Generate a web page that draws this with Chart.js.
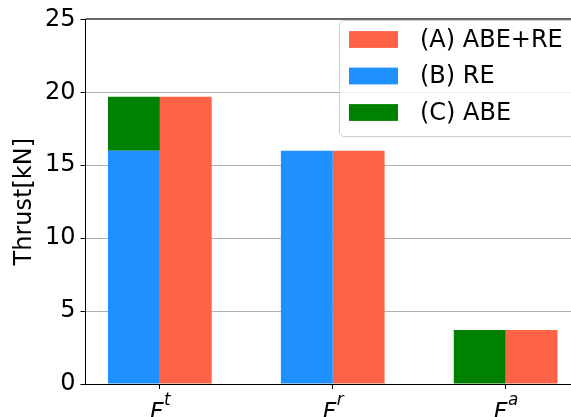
<!DOCTYPE html>
<html>
<head>
<meta charset="utf-8">
<script src="https://cdn.jsdelivr.net/npm/chart.js@4/dist/chart.umd.min.js"></script>
<style>
  html, body { margin: 0; padding: 0; overflow: hidden; background: #fff; }
  #wrap { width: 600px; height: 440px; }
</style>
</head>
<body>
<div id="wrap"><canvas id="c" width="600" height="440"></canvas></div>
<script>
// Thrust components per force direction
const tickSymbols = ['F', 'F', 'F'];
const tickSuperscripts = ['t', 'r', 'a'];
const categoryPositions = [0, 1, 2];
const yTickValues = [0, 5, 10, 15, 20, 25];

const seriesLabels = ['(A) ABE+RE', '(B) RE', '(C) ABE'];
const seriesColors = ['#ff6347', '#1e90ff', '#008000'];
const valuesABERE = [19.7, 16.0, 3.7];
const valuesRE = [16.0, 16.0, 0];
const valuesABE = [3.7, 0, 3.7];

const FONT = '"DejaVu Sans", sans-serif';

function points(vals) {
  return vals.map((v, i) => ({ x: categoryPositions[i], y: v }));
}

// Legend box drawn inside the plot area (top right)
const legendBox = {
  id: 'legendBox',
  afterDraw(chart) {
    const ctx = chart.ctx;
    const x = 339.5, y = 20.5, w = 260, h = 116, r = 5;
    ctx.save();
    ctx.beginPath();
    ctx.moveTo(x + r, y);
    ctx.lineTo(x + w - r, y);
    ctx.arcTo(x + w, y, x + w, y + r, r);
    ctx.lineTo(x + w, y + h - r);
    ctx.arcTo(x + w, y + h, x + w - r, y + h, r);
    ctx.lineTo(x + r, y + h);
    ctx.arcTo(x, y + h, x, y + h - r, r);
    ctx.lineTo(x, y + r);
    ctx.arcTo(x, y, x + r, y, r);
    ctx.closePath();
    ctx.fillStyle = 'rgba(255,255,255,0.8)';
    ctx.fill();
    ctx.strokeStyle = '#cccccc';
    ctx.lineWidth = 1;
    ctx.stroke();
    const rows = [39.5, 76, 112.5];
    ctx.font = '24px ' + FONT;
    ctx.textBaseline = 'middle';
    ctx.textAlign = 'left';
    seriesLabels.forEach((lab, i) => {
      ctx.fillStyle = seriesColors[i];
      ctx.fillRect(349, rows[i] - 8.4, 49, 16.8);
      ctx.fillStyle = '#000';
      ctx.fillText(lab, 420, rows[i] + 1);
    });
    ctx.restore();
  }
};

// Top/right spines and math-style category labels
const frameAndLabels = {
  id: 'frameAndLabels',
  afterDraw(chart) {
    const ctx = chart.ctx;
    const a = chart.chartArea;
    ctx.save();
    ctx.strokeStyle = '#000';
    ctx.lineWidth = 1;
    ctx.beginPath();
    ctx.moveTo(a.left, a.top - 0.5);
    ctx.lineTo(a.right, a.top - 0.5);
    ctx.moveTo(a.right + 0.5, a.top);
    ctx.lineTo(a.right + 0.5, a.bottom);
    ctx.stroke();

    const xs = chart.scales.x;
    const base = 419.5;
    ctx.fillStyle = '#000';
    ctx.textBaseline = 'alphabetic';
    ctx.textAlign = 'left';
    categoryPositions.forEach((p, i) => {
      const cx = xs.getPixelForValue(p);
      ctx.font = 'italic 24px ' + FONT;
      const wF = ctx.measureText(tickSymbols[i]).width;
      ctx.font = 'italic 16.8px ' + FONT;
      const wS = ctx.measureText(tickSuperscripts[i]).width;
      const x0 = cx - (wF + wS) / 2;
      ctx.font = 'italic 24px ' + FONT;
      ctx.fillText(tickSymbols[i], x0, base);
      ctx.font = 'italic 16.8px ' + FONT;
      ctx.fillText(tickSuperscripts[i], x0 + wF + 0.5, base - 14.5);
    });
    ctx.restore();
  }
};

new Chart(document.getElementById('c'), {
  type: 'bar',
  data: {
    datasets: [
      { label: seriesLabels[1], data: points(valuesRE), backgroundColor: seriesColors[1], stack: 'left', borderWidth: 0 },
      { label: seriesLabels[2], data: points(valuesABE), backgroundColor: seriesColors[2], stack: 'left', borderWidth: 0 },
      { label: seriesLabels[0], data: points(valuesABERE), backgroundColor: seriesColors[0], stack: 'right', borderWidth: 0 }
    ]
  },
  options: {
    responsive: false,
    animation: false,
    devicePixelRatio: 1,
    layout: { padding: { left: 0, top: 16, right: 20, bottom: 56 } },
    datasets: { bar: { categoryPercentage: 0.6, barPercentage: 1.0 } },
    plugins: { legend: { display: false }, tooltip: { enabled: false } },
    scales: {
      x: {
        type: 'linear',
        min: -0.43,
        max: 2.43,
        offset: false,
        z: 2,
        afterBuildTicks(s) { s.ticks = categoryPositions.map(v => ({ value: v })); },
        afterFit(s) { s.height = 0; },
        ticks: { display: false },
        grid: { offset: false, drawOnChartArea: false, drawTicks: true, tickLength: 5, tickColor: '#000', tickWidth: 1 },
        border: { display: true, color: '#000', width: 1 }
      },
      y: {
        stacked: true,
        min: 0,
        max: 25,
        z: 1,
        afterBuildTicks(s) { s.ticks = yTickValues.map(v => ({ value: v })); },
        afterFit(s) { s.width = 85.5; },
        ticks: { color: '#000', font: { family: FONT, size: 24 }, padding: 5 },
        grid: { color: '#b0b0b0', lineWidth: 1, tickLength: 5, tickColor: '#000', tickWidth: 1 },
        border: { display: true, color: '#000', width: 1 },
        title: {
          display: true,
          text: 'Thrust[kN]',
          color: '#000',
          font: { family: FONT, size: 24, lineHeight: 1.2 },
          padding: { top: 10, bottom: 0 }
        }
      }
    }
  },
  plugins: [legendBox, frameAndLabels]
});
</script>
</body>
</html>
